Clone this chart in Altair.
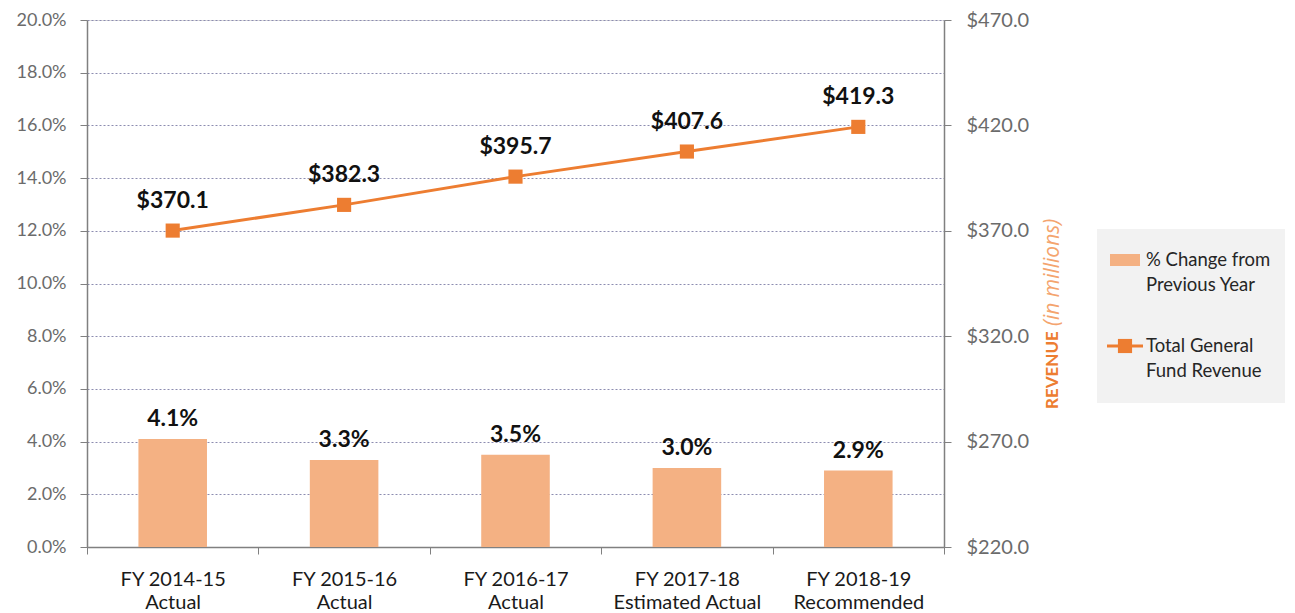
import altair as alt
import pandas as pd

categories = ["FY 2014-15|Actual", "FY 2015-16|Actual", "FY 2016-17|Actual",
              "FY 2017-18|Estimated Actual", "FY 2018-19|Recommended"]
pct_change = [0.041, 0.033, 0.035, 0.030, 0.029]
revenue = [370.1, 382.3, 395.7, 407.6, 419.3]
pct_ticks = [0, 0.02, 0.04, 0.06, 0.08, 0.10, 0.12, 0.14, 0.16, 0.18, 0.20]
rev_ticks = [220, 270, 320, 370, 420, 470]

df = pd.DataFrame({"cat": categories, "pct": pct_change, "rev": revenue})
df["pct_label"] = [f"{v*100:.1f}%" for v in pct_change]
df["rev_label"] = [f"${v:.1f}" for v in revenue]

BAR = "#F4B183"
LINE = "#ED7D31"
FONT = "Lato"

x = alt.X("cat:N", sort=categories, title=None,
          scale=alt.Scale(paddingInner=0, paddingOuter=0),
          axis=alt.Axis(labelExpr="split(datum.label, '|')", labelAngle=0,
                        labelFontSize=20, labelColor="#1a1a1a", labelFont=FONT,
                        labelLineHeight=23, labelPadding=15,
                        tickBand="extent", tickSize=7, tickColor="#808080",
                        domainColor="#808080", domainWidth=1.5, grid=False))

base = alt.Chart(df)

yl = alt.Y("pct:Q", title=None,
           scale=alt.Scale(domain=[0, 0.20], nice=False),
           axis=alt.Axis(values=pct_ticks, format=".1%", labelFontSize=18,
                         labelColor="#6b6b6b", labelFont=FONT, labelPadding=14,
                         tickSize=7, tickColor="#808080", domainColor="#808080",
                         domainWidth=1.5, grid=True, gridDash=[2, 2],
                         gridColor="#8c8cb0", gridWidth=1))

bars = base.mark_bar(color=BAR, width=alt.RelativeBandSize(0.4)).encode(x=x, y=yl)
bar_text = base.mark_text(dy=-20, fontSize=23, fontWeight="bold",
                          font=FONT, color="#111111").encode(x=x, y=yl, text="pct_label:N")
left = alt.layer(bars, bar_text)

yr = alt.Y("rev:Q", title=None,
           scale=alt.Scale(domain=[220, 470], nice=False),
           axis=alt.Axis(orient="right", values=rev_ticks, format="$.1f",
                         labelFontSize=20, labelColor="#6b6b6b", labelFont=FONT,
                         labelPadding=15, tickSize=7, tickColor="#808080",
                         domainColor="#808080", domainWidth=1.5, grid=False))

line = base.mark_line(color=LINE, strokeWidth=3).encode(x=x, y=yr)
pts = base.mark_square(color=LINE, size=200, opacity=1).encode(x=x, y=yr)
rev_text = base.mark_text(dy=-30, fontSize=23, fontWeight="bold",
                          font=FONT, color="#111111").encode(x=x, y=yr, text="rev_label:N")
right = alt.layer(line, pts, rev_text)

one = pd.DataFrame({"a": [0]})
title1 = alt.Chart(one).mark_text(angle=270, align="left", baseline="middle",
                                  fontSize=17, fontWeight="bold", font=FONT,
                                  color=LINE).encode(
    x=alt.value(966), y=alt.value(389), text=alt.value("REVENUE"))
title2 = alt.Chart(one).mark_text(angle=270, align="left", baseline="middle",
                                  fontSize=21, fontStyle="italic", font="Open Sans",
                                  color="#F4A46E").encode(
    x=alt.value(966), y=alt.value(306), text=alt.value("(in millions)"))

legend_bg = alt.Chart(one).mark_rect(color="#F2F2F2").encode(
    x=alt.value(1010), x2=alt.value(1198), y=alt.value(209), y2=alt.value(383))
leg_bar = alt.Chart(one).mark_rect(color=BAR).encode(
    x=alt.value(1023), x2=alt.value(1053), y=alt.value(234), y2=alt.value(246))
leg_line = alt.Chart(one).mark_rule(color=LINE, strokeWidth=3).encode(
    x=alt.value(1020), x2=alt.value(1056), y=alt.value(326))
leg_pt = alt.Chart(one).mark_square(color=LINE, size=200, opacity=1).encode(
    x=alt.value(1038), y=alt.value(326))
leg_text_df = pd.DataFrame({
    "t": ["% Change from", "Previous Year", "Total General", "Fund Revenue"],
    "yy": [240, 265, 326, 351]})
leg_text = alt.Chart(leg_text_df).mark_text(align="left", baseline="middle",
                                            fontSize=18.5, font=FONT,
                                            color="#262626").encode(
    x=alt.value(1059), y=alt.Y("yy:Q", scale=None), text="t:N")

extras = alt.layer(title1, title2, legend_bg, leg_bar, leg_line, leg_pt, leg_text)

chart = alt.layer(left, right, extras).resolve_scale(y="independent").properties(
    width=857, height=527,
    autosize=alt.AutoSizeParams(type="none"),
    padding={"left": 79, "top": 12, "right": 343, "bottom": 66},
).configure_view(stroke=None).configure(background="white")

chart.save("out.html", embed_options={"renderer": "svg", "actions": False})
